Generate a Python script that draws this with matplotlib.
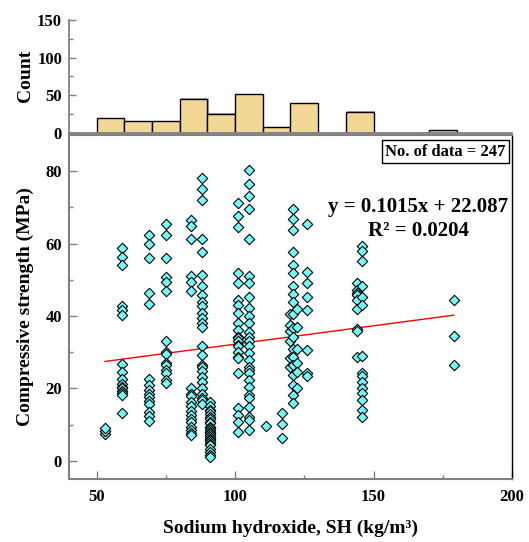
import numpy as np
import matplotlib.pyplot as plt

plt.rcParams['font.family'] = ['Liberation Serif', 'DejaVu Serif']
plt.rcParams['font.weight'] = 'bold'

# SH levels (kg/m3) and compressive strength values (MPa) read per column
sh_levels = [53, 59, 69, 75, 84, 88, 91, 101, 105, 111, 117, 120, 121, 122.5, 126, 144, 146, 179]
cs_values = [
    [7.5, 8.2, 9.0],
    [58.8, 56.3, 54.0, 42.9, 41.7, 40.4, 26.8, 24.5, 22.6, 21.2, 20.5, 20.1, 19.3, 18.7, 18.2, 13.3],
    [62.3, 59.9, 55.9, 46.5, 43.3, 22.6, 21.0, 19.6, 18.5, 17.7, 16.5, 15.7, 13.6, 12.5, 11.1],
    [65.3, 62.3, 55.9, 50.8, 49.4, 46.8, 33.0, 30.2, 29.5, 27.0, 26.5, 25.1, 24.2, 22.4, 21.4],
    [66.5, 65.0, 61.3, 51.0, 49.5, 47.0, 20.0, 18.6, 17.8, 16.2, 15.2, 13.8, 12.8, 11.5, 10.8,
     9.4, 8.6, 7.8, 7.2],
    [78.2, 75.0, 72.0, 61.3, 57.6, 51.4, 48.2, 45.9, 44.0, 42.7, 40.8, 39.6, 38.2, 37.1, 31.6,
     29.3, 26.5, 26.0, 24.7, 23.3, 21.9, 20.1, 18.4, 17.3, 16.8, 15.6],
    [16.3, 15.2, 14.0, 13.8, 12.9, 12.2, 11.6, 10.8, 10.4, 9.5, 9.1, 8.5, 8.0, 7.6, 7.1, 6.6,
     6.0, 5.7, 5.3, 4.8, 4.3, 3.4, 2.5, 1.6, 1.1],
    [71.3, 67.6, 64.7, 51.9, 49.1, 44.5, 43.1, 40.8, 38.0, 36.2, 34.3, 33.9, 33.0, 32.0, 31.6,
     30.2, 28.8, 28.4, 24.2, 14.5, 12.7, 10.8, 8.0],
    [80.3, 76.4, 73.1, 69.6, 61.3, 51.0, 49.1, 45.4, 42.2, 39.9, 38.1, 35.7, 34.3, 33.0, 31.6,
     29.7, 27.9, 26.0, 25.1, 24.2, 22.4, 20.5, 18.2, 17.3, 15.0, 12.2, 11.3, 8.5],
    [9.7],
    [13.1, 10.1, 6.4],
    [40.5, 36.0, 33.0, 28.5, 26.0, 37.5],
    [69.7, 66.7, 63.9, 57.7, 54.2, 51.9, 48.2, 46.1, 44.0, 40.6, 36.7, 34.3, 30.9, 28.8, 26.5,
     23.7, 21.0, 18.2, 15.9],
    [42.0, 37.0, 31.0, 27.0, 24.5, 20.0],
    [65.5, 52.2, 49.1, 45.4, 41.7, 30.7, 24.2, 23.5],
    [49.1, 47.3, 46.5, 45.9, 44.5, 41.9, 36.4, 35.8, 28.8],
    [59.3, 57.9, 55.1, 48.2, 45.4, 43.1, 29.0, 24.2, 23.5, 21.9, 20.1, 18.7, 16.8, 14.0, 12.2],
    [44.3, 34.5, 26.5],
]

# histogram of SH (bin width 10, from 50 to 180)
bin_edges = np.arange(50, 190, 10)
bin_counts = [19, 15, 15, 45, 25, 51, 7, 39, 0, 28, 0, 0, 3]

slope, intercept = 0.1015, 22.087

x = np.concatenate([[s] * len(v) for s, v in zip(sh_levels, cs_values)])
y = np.concatenate(cs_values)

fig = plt.figure(figsize=(5.29, 5.42), dpi=100)
ax = fig.add_axes([0.1304, 0.1162, 0.8374, 0.6347])
axh = fig.add_axes([0.1304, 0.7552, 0.8374, 0.2079])

grey = '#808080'

# histogram (with a light drop shadow like the original)
counts = np.array(bin_counts)
shadow = axh.bar(bin_edges[:-1] + 0.4, np.where(counts > 0, counts + 0.6, 0), width=10,
                 align='edge', color='#B0B0B0', linewidth=0, zorder=1)
axh.bar(bin_edges[:-1], counts, width=10, align='edge',
        color='#F3D795', edgecolor='black', linewidth=1, zorder=2)
axh.set_xlim(40, 200)
axh.set_ylim(0, 150)
axh.set_yticks([0, 50, 100, 150])
axh.set_yticks([25, 75, 125], minor=True)
axh.set_xticks([])
for s in ['top', 'right']:
    axh.spines[s].set_visible(False)
axh.spines['left'].set_color(grey)
axh.spines['left'].set_linewidth(1.3)
axh.spines['bottom'].set_color(grey)
axh.spines['bottom'].set_linewidth(1.3)
axh.tick_params(axis='y', which='major', direction='in', length=5, width=1,
                color=grey, labelsize=12, pad=5)
axh.tick_params(axis='y', which='minor', direction='in', length=3, width=1, color=grey)
axh.set_ylabel('Count', fontsize=14, fontweight='bold', labelpad=2)
for lab in axh.get_yticklabels():
    lab.set_fontweight('bold')

# scatter
ax.scatter(x, y, marker='D', s=28, facecolor='#70FFFF', edgecolor='black',
           linewidth=0.8, zorder=3)
xf = np.array([min(sh_levels), max(sh_levels)])
ax.plot(xf, slope * xf + intercept, color='red', linewidth=1, zorder=2)

ax.set_xlim(40, 200)
ax.set_ylim(-5, 90)
ax.set_xticks([50, 100, 150, 200])
ax.set_xticks([75, 125, 175], minor=True)
ax.set_yticks([0, 20, 40, 60, 80])
ax.set_yticks([10, 30, 50, 70], minor=True)
ax.tick_params(which='major', direction='in', length=6, width=1, color=grey,
               labelsize=12, pad=5)
ax.tick_params(which='minor', direction='in', length=3, width=1, color=grey)
ax.tick_params(axis='x', pad=7)
for lab in ax.get_xticklabels() + ax.get_yticklabels():
    lab.set_fontweight('bold')
for s in ['left', 'bottom', 'top']:
    ax.spines[s].set_color(grey)
    ax.spines[s].set_linewidth(1.5)
ax.spines['right'].set_color('black')
ax.spines['right'].set_linewidth(1)

ax.set_xlabel('Sodium hydroxide, SH (kg/m\u00b3)', fontsize=14,
              fontweight='bold', labelpad=11)
ax.set_ylabel('Compressive strength (MPa)', fontsize=14, fontweight='bold', labelpad=8)

ax.text(0.985, 0.975, 'No. of data = 247', transform=ax.transAxes, ha='right', va='top',
        fontsize=12, fontweight='bold',
        bbox=dict(boxstyle='square,pad=0.2', facecolor='white', edgecolor='black', linewidth=1))
ax.text(0.788, 0.756, f'y = {slope}x + {intercept}\nR\u00b2 = 0.0204', transform=ax.transAxes,
        ha='center', va='center', fontsize=15, fontweight='bold', linespacing=1.3)

fig.savefig('out.png', dpi=100)
